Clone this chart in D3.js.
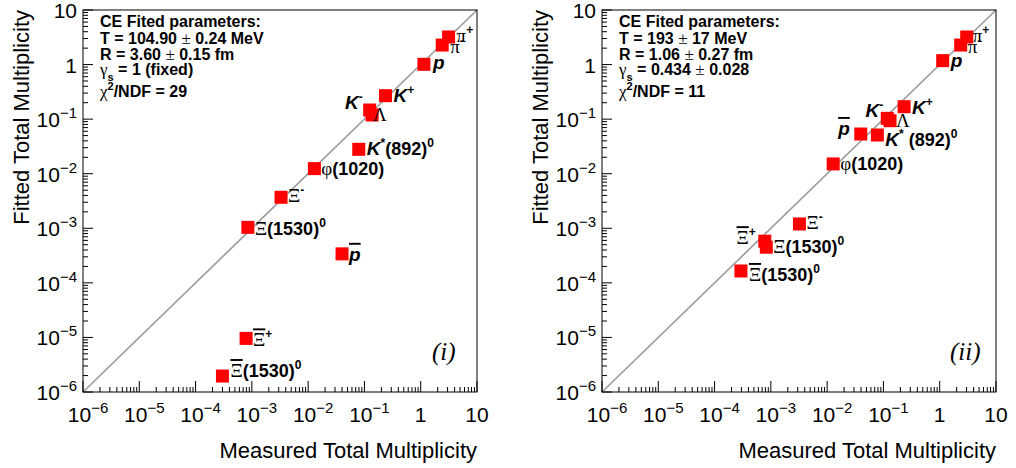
<!DOCTYPE html>
<html><head><meta charset="utf-8">
<script src="https://cdn.jsdelivr.net/npm/d3@7"></script>
<style>
html,body{margin:0;padding:0;background:#fff;}
</style></head>
<body>
<svg id="chart" width="1016" height="468" font-family="'Liberation Sans',Arial,sans-serif"></svg>
<script>
// ---------------- DATA ----------------
const particles = ["pi+","pi-","p","K+","K-","Lambda","K*0","phi","Xi-","Xi1530","pbar","Xi+","Xibar1530"];
// Panel (i)
const measuredI = [3.13, 2.41, 1.14, 0.237, 0.124, 0.137, 0.0793, 0.0129, 0.0033, 8.5e-4, 0.040, 7.9e-4, 3.0e-4];
const fittedI   = [3.2, 2.28, 1.01, 0.269, 0.147, 0.119, 0.028, 0.0124, 0.0037, 1.04e-3, 3.4e-4, 9.6e-6, 1.96e-6];
// Panel (ii)
const measuredII = [3.02, 2.36, 1.13, 0.233, 0.117, 0.131, 0.078, 0.0128, 0.00322, 8.3e-4, 0.0396, 7.8e-4, 2.94e-4];
const fittedII   = [3.2, 2.28, 1.18, 0.169, 0.1035, 0.0936, 0.0512, 0.0151, 0.0012, 4.5e-4, 0.0534, 5.8e-4, 1.65e-4];
const tickExponents = [-6,-5,-4,-3,-2,-1,0,1];
const paramsI  = ["CE Fited parameters:", "T = 104.90 \u00b1 0.24 MeV", "R = 3.60 \u00b1 0.15 fm", "\u03b3s = 1 (fixed)", "\u03c72/NDF = 29"];
const paramsII = ["CE Fited parameters:", "T = 193 \u00b1 17 MeV", "R = 1.06 \u00b1 0.27 fm", "\u03b3s = 0.434 \u00b1 0.028", "\u03c72/NDF = 11"];
const xTitle = "Measured Total Multiplicity";
const yTitle = "Fitted Total Multiplicity";

// ---------------- LABEL MARKUP (segments: type, text) ----------------
// types: G greek serif, B bold, BI bold italic, S superscript, O overlined greek, OI overlined bold italic
const labelSpecs = {
  "pi+": [["G","\u03c0"],["S","+"]],
  "pi-": [["G","\u03c0"],["S","-"]],
  "p": [["BI","p"]],
  "K+": [["BI","K"],["S","+"]],
  "K-": [["BI","K"],["S","-"]],
  "Lambda": [["G","\u039b"]],
  "K*0": [["BI","K"],["S","*"],["B","(892)"],["S","0"]],
  "phi": [["G","\u03c6"],["B","(1020)"]],
  "Xi-": [["G","\u039e"],["S","-"]],
  "Xi1530": [["G","\u039e"],["B","(1530)"],["S","0"]],
  "pbar": [["OI","p"]],
  "Xi+": [["O","\u039e"],["S","+"]],
  "Xibar1530": [["O","\u039e"],["B","(1530)"],["S","0"]]
};
const labelSpecsII = Object.assign({}, labelSpecs, {"K*0": [["BI","K"],["S","*"],["B"," (892)"],["S","0"]]});

// label layout offsets [dx, dy, anchor]
const offsetsI = {
  "pi+":[8,5,"start"],"pi-":[8,8,"start"],"p":[9,5,"start"],"K+":[8,6,"start"],"K-":[-7,-1,"end"],
  "Lambda":[1,6,"start"],"K*0":[8,6,"start"],"phi":[7,6,"start"],"Xi-":[7,5,"start"],"Xi1530":[7,8,"start"],
  "pbar":[7,7,"start"],"Xi+":[7,8,"start"],"Xibar1530":[8,1,"start"]
};
const offsetsII = {
  "pi+":[6,5,"start"],"pi-":[7,8,"start"],"p":[8,6,"start"],"K+":[8,7,"start"],"K-":[-4,-1,"end"],
  "Lambda":[6,6,"start"],"K*0":[8,11,"start"],"phi":[7,6,"start"],"Xi-":[7,5,"start"],"Xi1530":[7,6,"start"],
  "pbar":[-11,1,"end"],"Xi+":[-9,3,"end"],"Xibar1530":[8,10,"start"]
};

const svg = d3.select("#chart");
const SERIF = "'Liberation Serif','Times New Roman',serif";

function richText(g, x, y, segs, anchor, base) {
  const t = g.append("text").attr("x", x).attr("y", y).attr("text-anchor", anchor || "start")
    .attr("font-size", base).attr("fill", "#000");
  let shift = 0;
  segs.forEach(([type, txt]) => {
    let newShift = 0;
    const ts = t.append("tspan");
    if (type === "G" || type === "O" || type === "N") {
      ts.style("font-family", SERIF).attr("font-size", base + 1);
    } else if (type === "B") {
      ts.attr("font-weight", "bold");
    } else if (type === "BI" || type === "OI") {
      ts.attr("font-weight", "bold").attr("font-style", "italic").attr("font-size", base + 1);
    } else if (type === "S") {
      ts.attr("font-weight", "bold").attr("font-size", Math.round(base * 0.68)); newShift = Math.round(base * 0.45);
    } else if (type === "SUB") {
      ts.attr("font-weight", "bold").attr("font-size", Math.round(base * 0.68)); newShift = -Math.round(base * 0.4);
    }
    if (type === "O" || type === "OI") ts.attr("text-decoration", "overline");
    ts.attr("dy", shift - newShift);
    shift = newShift;
    ts.text(txt);
  });
  return t;
}

function paramSegs(line) {
  if (line.startsWith("\u03b3s")) {
    const rest = line.slice(2);
    const parts = rest.split("\u00b1");
    const s = [["G","\u03b3"],["SUB","s"],["B",parts[0]]];
    if (parts.length > 1) { s.push(["N","\u00b1"]); s.push(["B",parts[1]]); }
    return s;
  }
  if (line.startsWith("\u03c72")) {
    return [["G","\u03c7"],["S","2"],["B",line.slice(2)]];
  }
  const parts = line.split("\u00b1");
  if (parts.length > 1) return [["B",parts[0]],["N","\u00b1"],["B",parts[1]]];
  return [["B",line]];
}

function drawPanel(cfg) {
  const g = svg.append("g");
  const x = d3.scaleLog().domain([1e-6, 10]).range([cfg.x0, cfg.x1]);
  const y = d3.scaleLog().domain([1e-6, 10]).range([cfg.y1, cfg.y0]);

  // diagonal
  g.append("line").attr("x1", x(1e-6)).attr("y1", y(1e-6)).attr("x2", x(10)).attr("y2", y(10))
    .attr("stroke", "#9a9a9a").attr("stroke-width", 1.6);

  // frame
  g.append("rect").attr("x", cfg.x0).attr("y", cfg.y0).attr("width", cfg.x1 - cfg.x0).attr("height", cfg.y1 - cfg.y0)
    .attr("fill", "none").attr("stroke", "#000").attr("stroke-width", 1);

  // ticks
  const majors = tickExponents.map(e => Math.pow(10, e));
  const minors = [];
  tickExponents.slice(0, -1).forEach(e => { for (let k = 2; k <= 9; k++) minors.push(k * Math.pow(10, e)); });
  const tg = g.append("g").attr("stroke", "#000").attr("stroke-width", 1);
  majors.forEach(v => {
    tg.append("line").attr("x1", x(v)).attr("x2", x(v)).attr("y1", cfg.y1).attr("y2", cfg.y1 - 11);
    tg.append("line").attr("y1", y(v)).attr("y2", y(v)).attr("x1", cfg.x0).attr("x2", cfg.x0 + 10);
  });
  minors.forEach(v => {
    tg.append("line").attr("x1", x(v)).attr("x2", x(v)).attr("y1", cfg.y1).attr("y2", cfg.y1 - 5);
    tg.append("line").attr("y1", y(v)).attr("y2", y(v)).attr("x1", cfg.x0).attr("x2", cfg.x0 + 5);
  });

  // tick labels
  const tickLabel = (t, e) => {
    if (e === 0) { t.text("1"); return; }
    if (e === 1) { t.text("10"); return; }
    t.append("tspan").text("10");
    t.append("tspan").attr("font-size", 15).attr("dy", -9).text("\u2212" + Math.abs(e));
  };
  tickExponents.forEach(e => {
    const v = Math.pow(10, e);
    const tx = g.append("text").attr("x", x(v) + (e < 0 ? 5 : 0)).attr("y", cfg.y1 + 30).attr("text-anchor", "middle")
      .attr("font-size", 21).attr("fill", "#000");
    tickLabel(tx, e);
    const ty = g.append("text").attr("x", cfg.x0 - 6).attr("y", y(v) + 8).attr("text-anchor", "end")
      .attr("font-size", 21).attr("fill", "#000");
    tickLabel(ty, e);
  });

  // axis titles
  g.append("text").attr("x", cfg.x1).attr("y", cfg.y1 + 66).attr("text-anchor", "end")
    .attr("font-size", 22).attr("fill", "#000").text(xTitle);
  g.append("text").attr("transform", `translate(${cfg.x0 - 54},${cfg.y0}) rotate(-90)`)
    .attr("text-anchor", "end").attr("font-size", 22).attr("fill", "#000").text(yTitle);

  // points
  const data = particles.map((name, i) => ({name, m: cfg.meas[i], f: cfg.fit[i]}));
  const sz = 13;
  g.append("g").selectAll("rect").data(data).join("rect")
    .attr("x", d => x(d.m) - sz / 2).attr("y", d => y(d.f) - sz / 2)
    .attr("width", sz).attr("height", sz).attr("fill", "#ff0000");

  // point labels
  const lg = g.append("g");
  data.forEach(d => {
    const o = cfg.offsets[d.name];
    richText(lg, x(d.m) + o[0], y(d.f) + o[1], cfg.specs[d.name], o[2], 18);
  });

  // parameter box
  const bl = [27, 44, 60, 75, 97];
  cfg.params.forEach((line, i) => {
    richText(g, cfg.x0 + 17, cfg.y0 + bl[i] - 10, paramSegs(line), "start", 16);
  });

  // panel tag
  g.append("text").attr("x", cfg.tagX).attr("y", cfg.y1 - 32)
    .style("font-family", SERIF).attr("font-style", "italic")
    .attr("font-size", 25).attr("fill", "#000").text(cfg.tag);
}

drawPanel({x0: 83, x1: 477, y0: 10, y1: 392, meas: measuredI, fit: fittedI, offsets: offsetsI, specs: labelSpecs,
  params: paramsI, tag: "(i)", tagX: 432});
drawPanel({x0: 602, x1: 996, y0: 10, y1: 392, meas: measuredII, fit: fittedII, offsets: offsetsII, specs: labelSpecsII,
  params: paramsII, tag: "(ii)", tagX: 950});
</script>
</body></html>
